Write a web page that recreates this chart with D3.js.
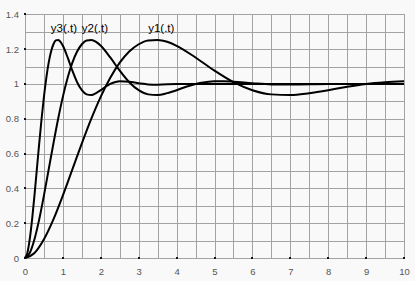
<!DOCTYPE html>
<html>
<head>
<meta charset="UTF-8">
<script src="https://d3js.org/d3.v7.min.js"></script>
<style>
  body { margin: 0; background: #f9f9f9; }
  svg { display: block; }
</style>
</head>
<body>
<svg id="vis" width="415" height="281"></svg>
<script>
// values
var t1 = [0, 0.25, 0.5, 0.75, 1, 1.25, 1.5, 1.75, 2, 2.25, 2.5, 2.75, 3, 3.25, 3.5, 3.75, 4, 4.5, 5, 5.5, 6, 6.5, 7, 7.5, 8, 8.5, 9, 9.5, 10];
var y1 = [0, 0.029, 0.108, 0.222, 0.360, 0.509, 0.658, 0.800, 0.927, 1.035, 1.122, 1.186, 1.228, 1.250, 1.253, 1.242, 1.219, 1.152, 1.076, 1.010, 0.964, 0.940, 0.936, 0.947, 0.964, 0.984, 1.000, 1.010, 1.016];

var t2 = [0, 0.125, 0.25, 0.375, 0.5, 0.625, 0.75, 0.875, 1, 1.125, 1.25, 1.375, 1.5, 1.625, 1.75, 1.875, 2, 2.25, 2.5, 2.75, 3, 3.25, 3.5, 3.75, 4, 4.25, 4.5, 4.75, 5, 5.25, 5.5, 6, 6.5, 7, 8, 10];
var y2 = [0, 0.029, 0.108, 0.222, 0.360, 0.509, 0.658, 0.800, 0.927, 1.035, 1.122, 1.186, 1.228, 1.250, 1.253, 1.242, 1.219, 1.152, 1.076, 1.010, 0.964, 0.940, 0.936, 0.947, 0.964, 0.984, 1.000, 1.010, 1.016, 1.016, 1.013, 1.004, 0.997, 0.996, 0.999, 1.000];

var t3 = [0, 0.0625, 0.125, 0.1875, 0.25, 0.3125, 0.375, 0.4375, 0.5, 0.5625, 0.625, 0.6875, 0.75, 0.8125, 0.875, 0.9375, 1, 1.125, 1.25, 1.375, 1.5, 1.625, 1.75, 1.875, 2, 2.125, 2.25, 2.5, 2.75, 3, 3.25, 3.5, 4, 5, 10];
var y3 = [0, 0.029, 0.108, 0.222, 0.360, 0.509, 0.658, 0.800, 0.927, 1.035, 1.122, 1.186, 1.228, 1.250, 1.253, 1.242, 1.219, 1.152, 1.076, 1.010, 0.964, 0.940, 0.936, 0.947, 0.964, 0.984, 1.000, 1.016, 1.013, 1.004, 0.997, 0.996, 0.999, 1.000, 1.000];

var xTicks = [0, 1, 2, 3, 4, 5, 6, 7, 8, 9, 10];
var yTicks = [0, 0.2, 0.4, 0.6, 0.8, 1, 1.2, 1.4];
var labels = ["y1(.t)", "y2(.t)", "y3(.t)"];
var labelPos = [[3.25, 1.3], [1.5, 1.3], [0.68, 1.3]];

var svg = d3.select("#vis");
var x = d3.scaleLinear().domain([0, 10]).range([25, 404]);
var y = d3.scaleLinear().domain([0, 1.4]).range([258, 14.3]);

// grid
var grid = svg.append("g").attr("stroke", "#a3a3a3").attr("stroke-width", 1).attr("shape-rendering", "crispEdges");
grid.selectAll("line.v").data(d3.range(0, 10.01, 0.5)).join("line")
  .attr("x1", d => Math.round(x(d)) + 0.5).attr("x2", d => Math.round(x(d)) + 0.5)
  .attr("y1", y(1.4)).attr("y2", y(0));
grid.selectAll("line.h").data(d3.range(0, 1.41, 0.1)).join("line")
  .attr("y1", d => Math.round(y(d)) + 0.5).attr("y2", d => Math.round(y(d)) + 0.5)
  .attr("x1", x(0)).attr("x2", x(10));

// axes: only dots and labels
var xAxis = d3.axisBottom(x).tickValues(xTicks).tickSize(0).tickPadding(10).tickFormat(d3.format("d"));
var gx = svg.append("g").attr("transform", "translate(0," + y(0) + ")").call(xAxis);
gx.select(".domain").remove();
gx.selectAll("text").attr("fill", "#555").attr("font-family", "Arial, 'Liberation Sans', sans-serif").attr("font-size", 9.5);

var yAxis = d3.axisLeft(y).tickValues(yTicks).tickSize(0).tickPadding(6).tickFormat(d => d3.format("~g")(+d.toFixed(1)));
var gy = svg.append("g").attr("transform", "translate(" + x(0) + ",0)").call(yAxis);
gy.select(".domain").remove();
gy.selectAll("text").attr("fill", "#555").attr("font-family", "Arial, 'Liberation Sans', sans-serif").attr("font-size", 9.5);

svg.append("g").selectAll("rect").data(xTicks).join("rect")
  .attr("x", d => Math.round(x(d)) - 1).attr("y", Math.round(y(0)) - 1).attr("width", 2).attr("height", 2).attr("fill", "#111");
svg.append("g").selectAll("rect").data(yTicks).join("rect")
  .attr("x", Math.round(x(0)) - 1).attr("y", d => Math.round(y(d)) - 1).attr("width", 2).attr("height", 2).attr("fill", "#111");

// curves
var series = [[t1, y1], [t2, y2], [t3, y3]];
var line = d3.line().x(d => x(d[0])).y(d => y(d[1])).curve(d3.curveMonotoneX);
var gLines = svg.append("g").attr("fill", "none").attr("stroke", "#000").attr("stroke-width", 2);
series.forEach(function(s) {
  gLines.append("path").attr("d", line(d3.zip(s[0], s[1])));
});

// curve names
svg.append("g").selectAll("text").data(labels).join("text")
  .attr("x", (d, i) => x(labelPos[i][0]))
  .attr("y", (d, i) => y(labelPos[i][1]))
  .attr("font-family", "Arial, 'Liberation Sans', sans-serif").attr("font-size", 11.5)
  .attr("fill", "#000")
  .text(d => d);
</script>
</body>
</html>
